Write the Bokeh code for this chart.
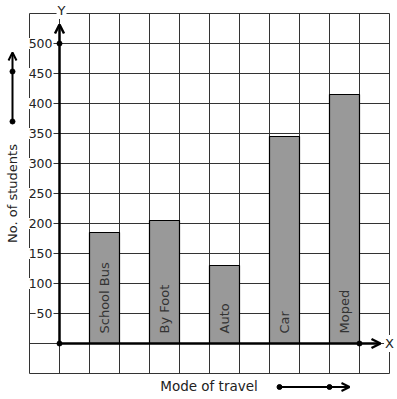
import numpy as np
from bokeh.plotting import figure
from bokeh.models import Range1d, Arrow, OpenHead, ColumnDataSource
from bokeh.core.properties import value
from bokeh.embed import file_html
from bokeh.resources import INLINE

# ---- data ----
modes = ["School Bus", "By Foot", "Auto", "Car", "Moped"]
students = [185, 205, 130, 345, 415]
y_ticks = [50, 100, 150, 200, 250, 300, 350, 400, 450, 500]
y_tick_labels = ["50", "100", "150", "200", "250", "300", "350", "400", "450", "500"]
x_title = "Mode of travel"
y_title = "No. of students"

# ---- layout constants (pixels) ----
W, H = 397, 399
X0_PX, Y0_PX = 59, 343          # origin in pixels (from top-left)
CELL_PX = 30                    # grid cell size
X_UNIT = 1.0                    # one cell in x
Y_UNIT = 50.0                   # one cell in y
sx = CELL_PX / X_UNIT
sy = CELL_PX / Y_UNIT

def dx(px):
    return (px - X0_PX) / sx

def dy(py):
    return (Y0_PX - py) / sy

FONT = value("DejaVu Sans")
GRID_COL = "#333333"

p = figure(width=W, height=H, output_backend="svg", toolbar_location=None,
           x_range=Range1d(dx(0), dx(W)), y_range=Range1d(dy(H), dy(0)),
           min_border=0, outline_line_color=None)
p.axis.visible = False
p.grid.visible = False
p.background_fill_color = "white"
p.border_fill_color = "white"

# ---- grid ----
gx = np.arange(-1, 12) * X_UNIT
gy = np.arange(-1, 12) * Y_UNIT
p.segment(x0=gx, y0=gy[0], x1=gx, y1=gy[-1], line_color=GRID_COL, line_width=1)
p.segment(x0=gx[0], y0=gy, x1=gx[-1], y1=gy, line_color=GRID_COL, line_width=1)

# ---- bars ----
left = [1 + 2 * i for i in range(len(modes))]
src = ColumnDataSource(dict(
    left=left,
    right=[l + 1 for l in left],
    top=students,
    center=[l + 0.5 for l in left],
    bottom=[0] * len(modes),
    name=modes,
))
p.quad(left="left", right="right", bottom="bottom", top="top", source=src,
       fill_color="#999999", line_color="black", line_width=1.2)
p.text(x="center", y="bottom", text="name", source=src, angle=np.pi / 2,
       text_align="left", text_baseline="middle", y_offset=-10, x_offset=0,
       text_font=FONT, text_font_size="13px", text_color="#333333")

# ---- axes ----
p.add_layout(Arrow(x_start=0, y_start=0, x_end=0, y_end=dy(24),
                   line_width=2.5, line_color="black",
                   end=OpenHead(size=9, line_width=2.5, line_color="black")))
p.add_layout(Arrow(x_start=0, y_start=0, x_end=dx(380), y_end=0,
                   line_width=2.5, line_color="black",
                   end=OpenHead(size=9, line_width=2.5, line_color="black")))
p.scatter(x=[0, 0, 10 * X_UNIT], y=[0, 500, 0], size=5, color="black")

# tick labels
p.text(x=dx(53), y=y_ticks, text=y_tick_labels, text_align="right",
       text_baseline="middle", text_font=FONT, text_font_size="12.5px",
       text_color="#222222", background_fill_color="white", padding=1)

# axis letters
p.text(x=[dx(61)], y=[dy(10)], text=["Y"], text_align="center",
       text_baseline="middle", text_font=FONT, text_font_size="13px",
       text_color="#222222", background_fill_color="white", padding=1)
p.text(x=[dx(389)], y=[0], text=["X"], text_align="center",
       text_baseline="middle", text_font=FONT, text_font_size="13px",
       text_color="#222222", background_fill_color="white", padding=1)

# ---- titles ----
p.text(x=[dx(12)], y=[dy(193)], text=[y_title], angle=np.pi / 2,
       text_align="center", text_baseline="middle", text_font=FONT,
       text_font_size="13px", text_color="#222222")
p.text(x=[dx(208.5)], y=[dy(385)], text=[x_title], text_align="center",
       text_baseline="middle", text_font=FONT, text_font_size="13.5px",
       text_color="#222222")

# title arrows
p.add_layout(Arrow(x_start=dx(12), y_start=dy(121), x_end=dx(12), y_end=dy(52),
                   line_width=2, line_color="black",
                   end=OpenHead(size=8, line_width=2, line_color="black")))
p.scatter(x=[dx(12), dx(12)], y=[dy(121), dy(71)], size=5, color="black")
p.add_layout(Arrow(x_start=dx(279), y_start=dy(386.5), x_end=dx(349), y_end=dy(386.5),
                   line_width=2, line_color="black",
                   end=OpenHead(size=8, line_width=2, line_color="black")))
p.scatter(x=[dx(279), dx(329)], y=[dy(386.5), dy(386.5)], size=5, color="black")

open("out.html", "w").write(file_html(p, INLINE))
